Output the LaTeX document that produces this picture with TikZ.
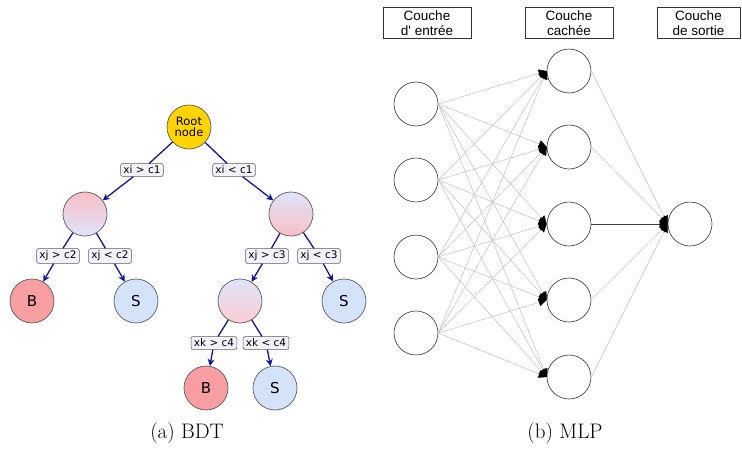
\documentclass[tikz,border=0pt]{standalone}
\usepackage{fontspec}
\newfontfamily\dejavu{DejaVu Sans}
\newfontfamily\arialfont{Liberation Sans}
\usetikzlibrary{arrows.meta}
\definecolor{navy}{RGB}{20,20,150}
\definecolor{goldc}{RGB}{255,212,0}
\definecolor{bfill}{RGB}{246,158,162}
\definecolor{sfill}{RGB}{212,226,250}
\definecolor{pinkc}{RGB}{250,190,198}
\definecolor{bluec}{RGB}{222,228,250}
\definecolor{labfill}{RGB}{243,241,250}
\definecolor{edgegray}{RGB}{90,90,90}
\tikzset{
  tnode/.style={circle, draw=edgegray, line width=0.7pt, minimum size=44pt, inner sep=0pt, font=\dejavu\fontsize{15}{17}\selectfont},
  lab/.style={draw=edgegray, fill=labfill, rounded corners=2pt, line width=0.6pt, inner xsep=2.8pt, inner ysep=2.3pt, font=\dejavu\fontsize{10.5}{12}\selectfont},
  tedge/.style={navy, line width=1.3pt},
  tarrow/.style={navy, line width=1.3pt, -{Stealth[length=7pt,width=7pt]}},
  neuron/.style={circle, draw=black!80, line width=0.6pt, minimum size=44pt, inner sep=0pt},
  header/.style={draw=black!80, line width=0.6pt, minimum width=88pt, minimum height=31pt, inner sep=1pt, align=center, font=\arialfont\fontsize{13.5}{15}\selectfont},
  wedge/.style={black!25, line width=0.5pt, -{Triangle[black,fill=black,length=8pt,width=8pt]}},
  caption/.style={font=\fontsize{21}{24}\selectfont}
}
\begin{document}
\begin{tikzpicture}[x=1pt,y=-1pt]
\useasboundingbox (0,0) rectangle (742,453);
% ---------- BDT ----------
\node[tnode, fill=goldc, align=center, font=\dejavu\fontsize{11.5}{13}\selectfont] (root) at (189,127) {Root\\[-2pt]node};
\node[tnode, top color=pinkc, bottom color=bluec] (L1) at (85,214) {};
\node[tnode, top color=bluec, bottom color=pinkc] (R1) at (291,214) {};
\node[tnode, fill=bfill] (B1) at (32,301) {B};
\node[tnode, fill=sfill] (S1) at (136,301) {S};
\node[tnode, top color=bluec, bottom color=pinkc!80] (R2) at (240,301) {};
\node[tnode, fill=sfill] (S2) at (344,301) {S};
\node[tnode, fill=bfill] (B2) at (206,388) {B};
\node[tnode, fill=sfill] (S3) at (275,388) {S};

\node[lab] (l1) at (142,170) {xi > c1};
\node[lab] (l2) at (234,170) {xi < c1};
\node[lab] (l3) at (58,256) {xj > c2};
\node[lab] (l4) at (110,256) {xj < c2};
\node[lab] (l5) at (267,256) {xj > c3};
\node[lab] (l6) at (319,256) {xj < c3};
\node[lab] (l7) at (214,343) {xk > c4};
\node[lab] (l8) at (266,343) {xk < c4};

\draw[tedge] (root) -- (l1); \draw[tarrow] (l1) -- (L1);
\draw[tedge] (root) -- (l2); \draw[tarrow] (l2) -- (R1);
\draw[tedge] (L1) -- (l3); \draw[tarrow] (l3) -- (B1);
\draw[tedge] (L1) -- (l4); \draw[tarrow] (l4) -- (S1);
\draw[tedge] (R1) -- (l5); \draw[tarrow] (l5) -- (R2);
\draw[tedge] (R1) -- (l6); \draw[tarrow] (l6) -- (S2);
\draw[tedge] (R2) -- (l7); \draw[tarrow] (l7) -- (B2);
\draw[tedge] (R2) -- (l8); \draw[tarrow] (l8) -- (S3);

\node[caption] (capa) at (187,433) {(a) BDT};

% ---------- MLP ----------
\node[header] (h1) at (427,23) {Couche\\d' entrée};
\node[header] (h2) at (569,23) {Couche\\cachée};
\node[header, minimum width=83pt] (h3) at (698.5,23) {Couche\\de sortie};

\foreach \i/\y in {1/104,2/180,3/257,4/333}
  \node[neuron] (in\i) at (416,\y) {};
\foreach \j/\y in {1/71,2/147,3/224,4/300,5/377}
  \node[neuron] (hid\j) at (569,\y) {};
\node[neuron] (out) at (690,224) {};

\foreach \i in {1,...,4}
  \foreach \j in {1,...,5}
    \draw[wedge] (in\i.east) -- (hid\j.west);
\foreach \j in {1,2,4,5}
  \draw[wedge] (hid\j.east) -- (out.west);
\draw[wedge, black!75] (hid3.east) -- (out.west);

\node[caption] (capb) at (565,433) {(b) MLP};
\end{tikzpicture}
\end{document}
